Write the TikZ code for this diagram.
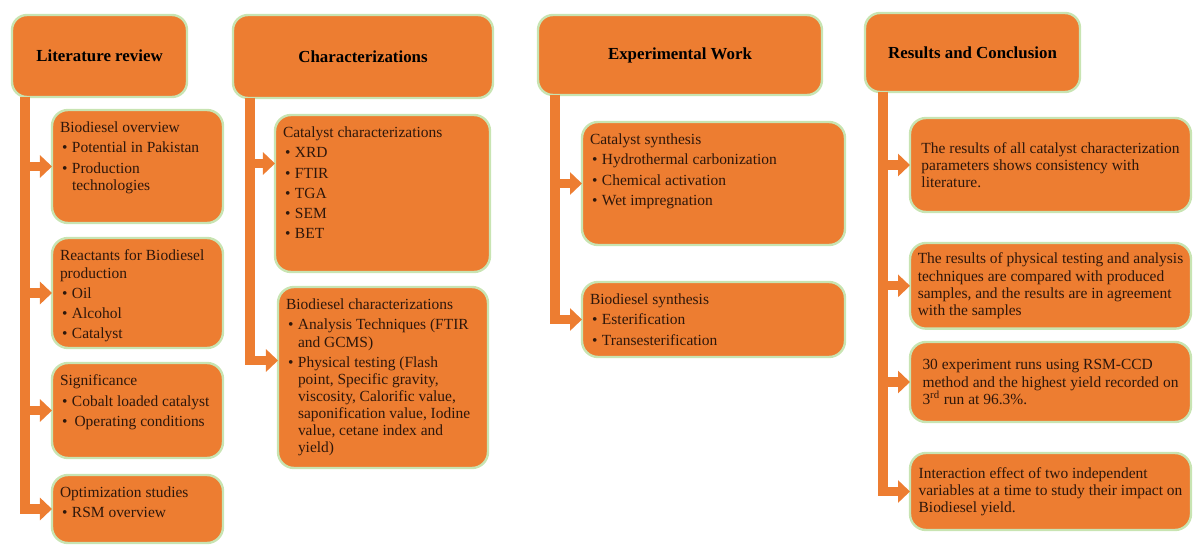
\documentclass[tikz,border=0pt]{standalone}
\usepackage{fontspec}
\setmainfont{Liberation Serif}
\usetikzlibrary{arrows.meta,calc}

\definecolor{boxorange}{HTML}{ED7D31}
\definecolor{glow}{HTML}{C8E4B2}
\definecolor{ink}{HTML}{2E170B}

% one pixel of the layout grid
\newlength{\pxu}
\setlength{\pxu}{0.025cm}

% text block pinned to the top of a box
\newcommand{\topbox}[3]{\parbox[c][#2\pxu][t]{#1\pxu}{\raggedright #3}}
\newcommand{\itm}[1]{\par\vspace{3\pxu}\hangindent=12\pxu\hangafter=1\noindent\makebox[12\pxu][l]{\hspace{2\pxu}\textbullet}#1}

\tikzset{
  stage/.style={draw=glow, line width=0.06cm, fill=boxorange, rounded corners=0.375cm,
    anchor=north west, inner sep=0pt, outer sep=0pt, text=black,
    font=\fontsize{12}{14}\selectfont\bfseries},
  item/.style={draw=glow, line width=0.06cm, fill=boxorange, rounded corners=0.4cm,
    anchor=north west, inner xsep=8\pxu, inner ysep=12\pxu, outer sep=0pt, text=ink,
    font=\fontsize{11}{12.2}\selectfont},
  note/.style={item, inner xsep=6\pxu, inner ysep=10\pxu, align=left},
  feed/.style={boxorange, line width=0.23cm, line join=miter,
    -{Triangle[length=0.3cm,width=0.55cm]}}
}

\begin{document}
\begin{tikzpicture}[x=0.025cm, y=-0.025cm]
\useasboundingbox (0,0) rectangle (1193,545);

% column heads
\node[stage, minimum width=175\pxu, minimum height=82\pxu] (lit) at (12,15) {Literature review};
\node[stage, minimum width=260\pxu, minimum height=83\pxu] (chr) at (233,15) {Characterizations};
\node[stage, minimum width=284\pxu, minimum height=80\pxu] (exp) at (538,15) {Experimental Work};
\node[stage, minimum width=215\pxu, minimum height=79\pxu] (res) at (865,13) {Results and Conclusion};

% literature review
\node[item] (lit1) at (52,110) {\topbox{155}{89}{Biodiesel overview
  \itm{Potential in Pakistan}
  \itm{Production\newline technologies}}};
\node[item] (lit2) at (52,238) {\topbox{155}{86}{Reactants for Biodiesel\newline production
  \itm{Oil}
  \itm{Alcohol}
  \itm{Catalyst}}};
\node[item] (lit3) at (52,363) {\topbox{155}{71}{Significance
  \itm{Cobalt loaded catalyst}
  \itm{\,Operating conditions}}};
\node[item] (lit4) at (52,475) {\topbox{155}{44}{Optimization studies
  \itm{RSM overview}}};

% characterizations
\node[item] (chr1) at (275,115) {\topbox{199}{133}{Catalyst characterizations
  \itm{XRD}
  \itm{FTIR}
  \itm{TGA}
  \itm{SEM}
  \itm{BET}}};
\node[item] (chr2) at (278,287) {\topbox{194}{157}{Biodiesel characterizations
  \itm{Analysis Techniques (FTIR\newline and GCMS)}
  \itm{Physical testing (Flash\newline point, Specific gravity,\newline viscosity, Calorific value,\newline saponification value, Iodine\newline value, cetane index and\newline yield)}}};

% experimental work
\node[item] (exp1) at (582,122) {\topbox{247}{99}{Catalyst synthesis
  \itm{Hydrothermal carbonization}
  \itm{Chemical activation}
  \itm{Wet impregnation}}};
\node[item] (exp2) at (582,282) {\topbox{247}{51}{Biodiesel synthesis
  \itm{Esterification}
  \itm{Transesterification}}};

% results and conclusion
\node[note, minimum width=281\pxu, minimum height=94\pxu] (res1) at (910,118)
  {The results of all catalyst characterization\\parameters shows consistency with\\literature.};
\node[note, minimum width=281\pxu, minimum height=77\pxu] (res2) at (910,243)
  {The results of physical testing and analysis\\techniques are compared with produced\\samples, and the results are in agreement\\with the samples};
\node[note, minimum width=281\pxu, minimum height=80\pxu] (res3) at (910,342)
  {30 experiment runs using RSM-CCD\\method and the highest yield recorded on\\3\textsuperscript{rd} run at 96.3\%.};
\node[note, minimum width=281\pxu, minimum height=77\pxu] (res4) at (910,453)
  {Interaction effect of two independent\\variables at a time to study their impact on\\Biodiesel yield.};

% trunks
\coordinate (litbar) at ($(lit.south west)+(13,0)$);
\coordinate (chrbar) at ($(chr.south west)+(17,0)$);
\coordinate (expbar) at ($(exp.south west)+(17,0)$);
\coordinate (resbar) at ($(res.south west)+(18,0)$);

\draw[feed] (litbar) |- (lit1.west);
\draw[feed] (litbar) |- (lit2.west);
\draw[feed] (litbar) |- (lit3.west);
\draw[feed] (litbar) |- (lit4.west);

\draw[feed] (chrbar) |- ([yshift=30\pxu]chr1.west);
\draw[feed] (chrbar) |- ([yshift=17\pxu]chr2.west);

\draw[feed] (expbar) |- (exp1.west);
\draw[feed] (expbar) |- (exp2.west);

\draw[feed] (resbar) |- (res1.west);
\draw[feed] (resbar) |- (res2.west);
\draw[feed] (resbar) |- (res3.west);
\draw[feed] (resbar) |- (res4.west);
\end{tikzpicture}
\end{document}
